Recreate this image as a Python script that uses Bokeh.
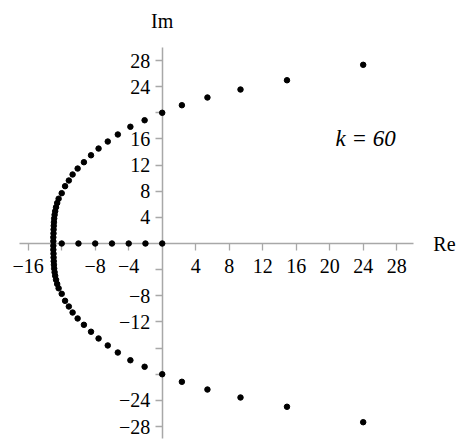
from bokeh.plotting import figure
from bokeh.models import LinearAxis, FixedTicker, Label, Range1d
from bokeh.embed import file_html
from bokeh.resources import INLINE

# ---- data ----
real_re = [0, -2, -4, -6, -8, -10, -12]
real_im = [0, 0, 0, 0, 0, 0, 0]

upper_re = [-13.0, -13.0, -12.98, -12.97, -12.95, -12.93, -12.9, -12.85, -12.78,
            -12.68, -12.54, -12.37, -12.0, -11.6, -11.15, -10.7, -10.1, -9.35,
            -8.5, -7.6, -6.5, -5.3, -3.8, -2.1, 0.0, 2.35, 5.4, 9.35, 14.9, 24.0]
upper_im = [0.35, 0.95, 1.55, 2.14, 2.71, 3.26, 3.83, 4.39, 4.94, 5.55, 6.2, 6.85,
            7.7, 8.77, 9.64, 10.56, 11.47, 12.44, 13.5, 14.53, 15.6, 16.68, 17.86,
            18.86, 20.0, 21.16, 22.34, 23.56, 24.98, 27.34]
lower_re = [-13.0, -13.0, -12.98, -12.97, -12.95, -12.93, -12.9, -12.85, -12.78,
            -12.68, -12.54, -12.37, -12.0, -11.6, -11.15, -10.7, -10.1, -9.35,
            -8.5, -7.6, -6.5, -5.3, -3.8, -2.1, 0.0, 2.35, 5.4, 9.35, 14.9, 24.0]
lower_im = [-0.35, -0.95, -1.55, -2.14, -2.71, -3.26, -3.83, -4.39, -4.94, -5.55,
            -6.2, -6.85, -7.7, -8.77, -9.64, -10.56, -11.47, -12.44, -13.5, -14.53,
            -15.6, -16.68, -17.86, -18.86, -20.0, -21.16, -22.34, -23.56, -24.98, -27.34]

x_ticks = [-16, -12, -8, -4, 4, 8, 12, 16, 20, 24, 28]
x_labels = ["\u221216", "", "\u22128", "\u22124", "4", "8", "12", "16", "20", "24", "28"]
y_ticks = [-28, -24, -20, -16, -12, -8, -4, 4, 8, 12, 16, 20, 24, 28]
y_labels = ["\u221228", "\u221224", "", "", "\u221212", "\u22128", "",
            "4", "8", "12", "16", "", "24", "28"]

annotation = "k = 60"

FONT = "'Liberation Serif', 'Times New Roman', serif"
AX_COLOR = "#a8a8a8"

p = figure(width=460, height=440, frame_width=460, frame_height=440, min_border=0,
           x_range=Range1d(-19.31, 35.62), y_range=Range1d(-30.14, 37.18),
           x_axis_location=None, y_axis_location=None,
           output_backend="svg", toolbar_location=None)
p.grid.visible = False
p.outline_line_color = None
p.background_fill_color = "white"
p.border_fill_color = "white"

def style(ax):
    ax.level = "underlay"
    ax.axis_line_color = AX_COLOR
    ax.axis_line_width = 1.5
    ax.major_tick_line_color = AX_COLOR
    ax.major_tick_line_width = 1.3
    ax.major_tick_in = 0
    ax.major_tick_out = 7
    ax.minor_tick_line_color = None
    ax.major_label_text_font = FONT
    ax.major_label_text_font_size = "20px"
    ax.major_label_text_color = "black"

xaxis = LinearAxis(fixed_location=0, bounds=(-17.04, 30.0), ticker=FixedTicker(ticks=x_ticks),
                   major_label_overrides={t: l for t, l in zip(x_ticks, x_labels)})
style(xaxis)
xaxis.major_label_standoff = 8
p.add_layout(xaxis, "below")

yaxis = LinearAxis(fixed_location=0, bounds=(-29.8, 30.0), ticker=FixedTicker(ticks=y_ticks),
                   major_label_overrides={t: l for t, l in zip(y_ticks, y_labels)})
style(yaxis)
yaxis.major_label_standoff = 5
p.add_layout(yaxis, "left")

p.scatter(real_re, real_im, size=5.5, color="black")
p.scatter(upper_re, upper_im, size=5.5, color="black")
p.scatter(lower_re, lower_im, size=5.5, color="black")

p.add_layout(Label(x=0, y=34.1, text="Im", text_font=FONT, text_font_size="20px",
                   text_align="center", text_baseline="middle", text_color="black"))
p.add_layout(Label(x=33.7, y=0, text="Re", text_font=FONT, text_font_size="20px",
                   text_align="center", text_baseline="middle", text_color="black"))
p.add_layout(Label(x=24.3, y=16.0, text=annotation, text_font=FONT, text_font_size="23px",
                   text_font_style="italic", text_align="center", text_baseline="middle",
                   text_color="black"))

open("out.html", "w").write(file_html(p, INLINE))
